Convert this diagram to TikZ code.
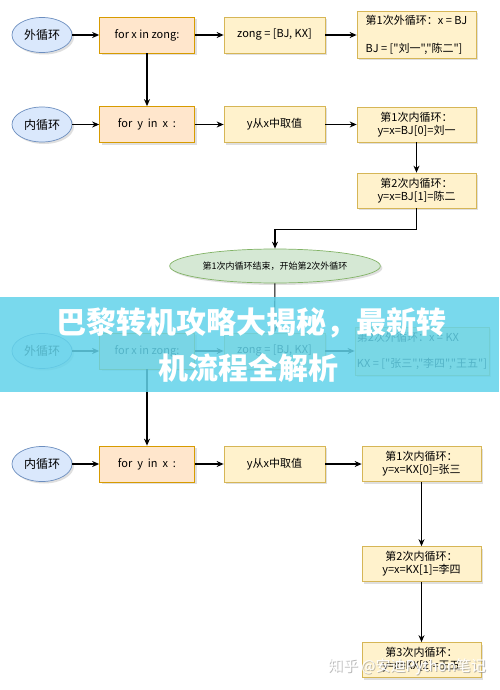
\documentclass[tikz,border=0pt]{standalone}
\usepackage{fontspec}
\newfontfamily\cjk{Noto Sans CJK SC}
\usetikzlibrary{shapes.geometric,arrows.meta,positioning,shadows}

\definecolor{bluefill}{HTML}{DAE8FC}
\definecolor{bluedraw}{HTML}{6C8EBF}
\definecolor{orangefill}{HTML}{FFE6CC}
\definecolor{orangedraw}{HTML}{D79B00}
\definecolor{yellowfill}{HTML}{FFF2CC}
\definecolor{yellowdraw}{HTML}{D6B656}
\definecolor{greenfill}{HTML}{D5E8D4}
\definecolor{greendraw}{HTML}{82B366}
\definecolor{bannerblue}{HTML}{62D3EA}

\begin{document}
\begin{tikzpicture}[x=1pt, y=-1pt,
    font=\cjk\fontsize{11}{13}\selectfont,
    >={Stealth[length=7pt,width=6pt]},
    base/.style={draw, on grid, align=center, inner sep=2pt, line width=0.7pt,
      drop shadow={shadow xshift=2pt, shadow yshift=-2pt, opacity=0.25}},
    loopell/.style={base, ellipse, fill=bluefill, draw=bluedraw, minimum width=60pt, minimum height=35pt, font=\cjk\fontsize{12}{14}\selectfont},
    forbox/.style={base, rectangle, fill=orangefill, draw=orangedraw, minimum width=95pt, minimum height=36pt},
    stepbox/.style={base, rectangle, fill=yellowfill, draw=yellowdraw, minimum width=101pt, minimum height=36pt},
    resbox/.style={stepbox, minimum width=119pt, minimum height=35pt},
    turnell/.style={base, ellipse, fill=greenfill, draw=greendraw, minimum width=204pt, minimum height=34pt, font=\cjk\fontsize{9}{11}\selectfont},
    norm/.style={->, draw, black, line width=1.1pt},
    banner/.style={fill=bannerblue, opacity=0.85, inner sep=0pt, minimum width=499pt, minimum height=95pt},
    title/.style={text=white, font=\cjk\fontsize{30}{33}\selectfont\bfseries},
    wmark/.style={text=white, font=\cjk\fontsize{15}{17}\selectfont}]

\path [use as bounding box, fill=white] (0,0) rectangle (499,690);

% first outer loop
\node [loopell] (outer1) at (42,35) {外循环};
\node [forbox] (forx1) [right=105pt of outer1] {for x in zong:};
\node [stepbox] (zong1) [right=127.5pt of forx1] {zong = [BJ, KX]};
\node [resbox, minimum height=47pt, align=left] (res1) [right=142pt of zong1] {第1次外循环：x = BJ\\[15pt]BJ = ["刘一","陈二"]};

\node [loopell] (inner1) at (42,124.5) {内循环};
\node [forbox] (fory1) [right=105pt of inner1] {for~ y~ in~ x~ :};
\node [stepbox] (pick1) [right=127.5pt of fory1] {y从x中取值};
\node [resbox] (in11) [right=142pt of pick1] {第1次内循环：\\y=x=BJ[0]=刘一};
\node [resbox] (in12) [below=66pt of in11] {第2次内循环：\\y=x=BJ[1]=陈二};

\node [turnell] (turn) at (275,266) {第1次内循环结束，开始第2次外循环};

% second outer loop
\node [loopell] (outer2) at (42,351) {外循环};
\node [forbox] (forx2) [right=105pt of outer2] {for x in zong:};
\node [stepbox] (zong2) [right=127.5pt of forx2] {zong = [BJ, KX]};
\node [resbox, minimum width=130pt, minimum height=48pt, align=left] (res2) [right=147.5pt of zong2] {第2次外循环：x = KX\\[13pt]KX = ["张三","李四","王五"]};

\node [loopell] (inner2) at (42,464) {内循环};
\node [forbox] (fory2) [right=105pt of inner2] {for~ y~ in~ x~ :};
\node [stepbox] (pick2) [right=127.5pt of fory2] {y从x中取值};
\node [resbox] (in21) [right=147pt of pick2] {第1次内循环：\\y=x=KX[0]=张三};
\node [resbox] (in22) [below=100pt of in21] {第2次内循环：\\y=x=KX[1]=李四};
\node [resbox] (in23) [below=96pt of in22] {第3次内循环：\\y=x=KX[2]=王五};

\draw [norm] (outer1) -- (forx1);
\draw [norm] (forx1) -- (zong1);
\draw [norm] (zong1.east) -- (zong1.east -| res1.west);
\draw [norm] (forx1) -- (fory1);
\draw [norm] (inner1) -- (fory1);
\draw [norm] (fory1) -- (pick1);
\draw [norm] (pick1) -- (in11);
\draw [norm] (in11) -- (in12);
\draw [norm] (in12.south) -- ++(0,21) -| (turn.north);
\draw [norm] (turn) -- (zong2);
\draw [norm] (outer2) -- (forx2);
\draw [norm] (forx2) -- (zong2);
\draw [norm] (zong2) -- (res2);
\draw [norm] (forx2) -- (fory2);
\draw [norm] (inner2) -- (fory2);
\draw [norm] (fory2) -- (pick2);
\draw [norm] (pick2) -- (in21);
\draw [norm] (in21) -- (in22);
\draw [norm] (in22) -- (in23);

% banner over the picture
\node [banner] (band) at (249.5,344.5) {};
\node [title] (title1) at (251,323) {巴黎转机攻略大揭秘，最新转};
\node [title] (title2) at (248,368) {机流程全解析};

\node [wmark, text=black!45, opacity=0.6] (mark0) at (408,668) {知乎 @安迪Python笔记};
\node [wmark] (mark1) at (407,667) {知乎 @安迪Python笔记};

\end{tikzpicture}
\end{document}
